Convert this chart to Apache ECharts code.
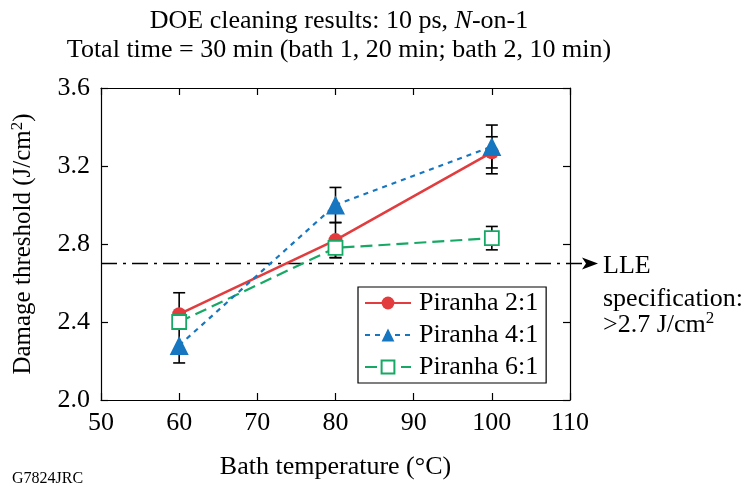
<!DOCTYPE html>
<html><head><meta charset="utf-8">
<script src="https://cdn.jsdelivr.net/npm/echarts@6/dist/echarts.min.js"></script>
<style>html,body{margin:0;padding:0;background:#fff}#c{width:748px;height:487px}</style>
</head><body><div id="c"></div>
<script>
const temps = [60, 80, 100];
const piranha21 = [2.44, 2.82, 3.27];
const piranha41 = [2.28, 3.00, 3.30];
const piranha61 = [2.40, 2.78, 2.83];
const err21Low = [2.37, 2.73, 3.16];
const err21High = [2.55, 2.91, 3.35];
const err41Low = [2.19, 2.91, 3.19];
const err41High = [2.37, 3.09, 3.41];
const err61Low = [null, 2.73, 2.77];
const err61High = [null, 2.82, 2.89];
const specValue = 2.7;
const xTicks = [50, 60, 70, 80, 90, 100, 110];
const yTicks = [2.0, 2.4, 2.8, 3.2, 3.6];

const FONT = '"Liberation Serif", "DejaVu Serif", serif';
const RED = '#e23c3f', BLUE = '#1676c0', GREEN = '#17a865';
const FS = 26;

const errData = [];
[[err21Low, err21High], [err41Low, err41High], [err61Low, err61High]].forEach(([lo, hi]) => {
  temps.forEach((t, i) => { if (lo[i] != null) errData.push([t, lo[i], hi[i]]); });
});

const chart = echarts.init(document.getElementById('c'));
const axisCommon = {
  axisLine: { lineStyle: { color: '#000', width: 1.2 } },
  axisTick: { inside: true, length: 7, lineStyle: { color: '#000', width: 1.2 } },
  splitLine: { show: false }
};
chart.setOption({
  animation: false,
  textStyle: { fontFamily: FONT },
  title: {
    left: 334, textAlign: 'center', top: 2,
    text: '{n|DOE cleaning results: 10 ps, }{i|N}{n|-on-1}\n{n|Total time = 30 min (bath 1, 20 min; bath 2, 10 min)}',
    textStyle: {
      fontFamily: FONT, fontWeight: 'normal', color: '#000', fontSize: FS, lineHeight: 29,
      rich: {
        n: { fontFamily: FONT, fontSize: FS, color: '#000', lineHeight: 29 },
        i: { fontFamily: FONT, fontSize: FS, color: '#000', fontStyle: 'italic', lineHeight: 29 }
      }
    }
  },
  grid: { left: 101, right: 178, top: 88, bottom: 87 },
  legend: {
    orient: 'vertical', left: 358, top: 287,
    data: ['Piranha 2:1', 'Piranha 4:1', 'Piranha 6:1'],
    borderColor: '#000', borderWidth: 1.2, borderRadius: 0,
    padding: [3, 8, 3, 6], itemGap: 6, itemWidth: 46, itemHeight: 16,
    textStyle: { fontFamily: FONT, fontSize: FS, color: '#000', lineHeight: 26, padding: [0, 0, 0, 3] }
  },
  xAxis: [{
    type: 'value', min: 50, max: 110, interval: 10,
    name: 'Bath temperature (°C)', nameLocation: 'middle', nameGap: 54,
    nameTextStyle: { fontFamily: FONT, fontSize: FS, color: '#000' },
    axisLabel: { fontFamily: FONT, fontSize: FS, color: '#000', margin: 10,
      formatter: v => xTicks.includes(v) ? String(v) : '' },
    ...axisCommon
  }, {
    type: 'value', min: 50, max: 110, interval: 10, position: 'top',
    axisLabel: { show: false }, ...axisCommon
  }],
  yAxis: [{
    type: 'value', min: 2.0, max: 3.6, interval: 0.4,
    name: '{n|Damage threshold (J/cm}{s|2}{n|)}', nameLocation: 'middle', nameGap: 63, nameRotate: 90,
    nameTextStyle: { rich: {
      n: { fontFamily: FONT, fontSize: 25, color: '#000' },
      s: { fontFamily: FONT, fontSize: 17, color: '#000', verticalAlign: 'top', padding: [0, 0, 12, 0] }
    } },
    axisLabel: { fontFamily: FONT, fontSize: FS, color: '#000', margin: 11,
      formatter: v => { const f = yTicks.find(t => Math.abs(t - v) < 1e-6); return f != null ? f.toFixed(1) : ''; } },
    ...axisCommon
  }, {
    type: 'value', min: 2.0, max: 3.6, interval: 0.4, position: 'right',
    axisLabel: { show: false }, ...axisCommon
  }],
  series: [
    {
      type: 'custom', name: 'err', z: 1, silent: true,
      data: errData,
      renderItem: (params, api) => {
        const x = api.value(0);
        const lo = api.coord([x, api.value(1)]);
        const hi = api.coord([x, api.value(2)]);
        const w = 6;
        const st = { stroke: '#000', lineWidth: 1.6 };
        return { type: 'group', children: [
          { type: 'line', shape: { x1: lo[0], y1: lo[1], x2: hi[0], y2: hi[1] }, style: st },
          { type: 'line', shape: { x1: lo[0] - w, y1: lo[1], x2: lo[0] + w, y2: lo[1] }, style: st },
          { type: 'line', shape: { x1: hi[0] - w, y1: hi[1], x2: hi[0] + w, y2: hi[1] }, style: st }
        ] };
      }
    },
    {
      type: 'line', name: 'Piranha 2:1', z: 3,
      data: temps.map((t, i) => [t, piranha21[i]]),
      symbol: 'circle', symbolSize: 14,
      lineStyle: { color: RED, width: 2.6 },
      itemStyle: { color: RED, borderWidth: 0 }
    },
    {
      type: 'line', name: 'Piranha 6:1', z: 4,
      data: temps.map((t, i) => [t, piranha61[i]]),
      symbol: 'rect', symbolSize: 14,
      lineStyle: { color: GREEN, width: 2.2, type: [12, 6] },
      itemStyle: { color: '#fff', borderColor: GREEN, borderWidth: 1.8 }
    },
    {
      type: 'line', name: 'Piranha 4:1', z: 5,
      data: temps.map((t, i) => [t, piranha41[i]]),
      symbol: 'triangle', symbolSize: 19,
      lineStyle: { color: BLUE, width: 2.2, type: [5, 5] },
      itemStyle: { color: BLUE, borderWidth: 0 }
    }
  ]
});

// Specification reference line (dash-dot) running past the plot to an arrow and label
const yPix = chart.convertToPixel({ yAxisIndex: 0 }, specValue);
const x0 = chart.convertToPixel({ xAxisIndex: 0 }, 50);
const xEnd = chart.convertToPixel({ xAxisIndex: 0 }, 110);
const arrowTip = xEnd + 28;
chart.setOption({
  graphic: [
    { type: 'line', z: 2, shape: { x1: x0, y1: yPix, x2: arrowTip - 12, y2: yPix },
      style: { stroke: '#000', lineWidth: 1.6, lineDash: [16, 6, 3, 6] } },
    { type: 'polygon', z: 2, shape: { points: [[arrowTip, yPix], [arrowTip - 16, yPix - 6], [arrowTip - 12, yPix], [arrowTip - 16, yPix + 6]] },
      style: { fill: '#000' } },
    { type: 'text', left: arrowTip + 5, top: yPix - 10,
      style: { text: 'LLE', font: FS + 'px ' + FONT, fill: '#000' } },
    { type: 'text', left: arrowTip + 5, top: yPix + 23,
      style: { text: 'specification:', font: FS + 'px ' + FONT, fill: '#000' } },
    { type: 'text', left: arrowTip + 5, top: yPix + 47,
      style: { text: '{n|>2.7 J/cm}{s|2}', rich: {
        n: { font: FS + 'px ' + FONT, fill: '#000' },
        s: { font: '17px ' + FONT, fill: '#000', verticalAlign: 'top', padding: [0, 0, 12, 0] }
      } } },
    { type: 'text', left: 12, top: 471,
      style: { text: 'G7824JRC', font: '16px ' + FONT, fill: '#000' } }
  ]
});
</script></body></html>
